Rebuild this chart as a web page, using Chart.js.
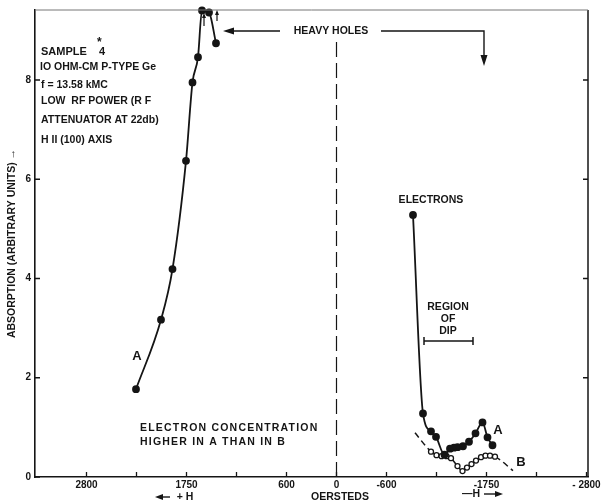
<!DOCTYPE html>
<html>
<head>
<meta charset="utf-8">
<script src="https://cdn.jsdelivr.net/npm/chart.js@4.4.1/dist/chart.umd.min.js"></script>
<style>
  html, body { margin: 0; padding: 0; background: #fff; }
  #wrap { width: 605px; height: 504px; }
</style>
</head>
<body>
<div id="wrap"><canvas id="grafica"></canvas></div>
<script>
// posiciones del eje x en divisiones (0 = campo cero), etiquetas en oersteds
const xTickPos = [-5, -4, -3, -2, -1, 0, 1, 2, 3, 4, 5];
const xTickLabels = ['2800', '', '1750', '', '600', '0', '-600', '', '-1750', '', '- 2800'];
const yTickPos = [0, 2, 4, 6, 8];

// huecos pesados (+H)
const huecosX = [-4.01, -3.51, -3.28, -3.01, -2.88, -2.77, -2.69, -2.55, -2.41];
const huecosY = [1.77, 3.17, 4.19, 6.37, 7.95, 8.46, 9.40, 9.36, 8.74];

// electrones, muestra A (-H)
const electronesAX = [1.53, 1.73, 1.89, 1.99, 2.16, 2.27, 2.35, 2.42, 2.53, 2.65, 2.78, 2.92, 3.02, 3.12];
const electronesAY = [5.28, 1.28, 0.92, 0.81, 0.45, 0.57, 0.59, 0.60, 0.62, 0.71, 0.88, 1.10, 0.80, 0.64];

// muestra B (circulos abiertos), primer y ultimo punto solo son el trazo discontinuo
const muestraBX = [1.57, 1.89, 2.00, 2.10, 2.20, 2.29, 2.42, 2.52, 2.61, 2.70, 2.79, 2.89, 2.98, 3.07, 3.17, 3.53];
const muestraBY = [0.89, 0.51, 0.44, 0.42, 0.42, 0.38, 0.22, 0.12, 0.19, 0.26, 0.33, 0.40, 0.43, 0.43, 0.41, 0.13];

const regionDip = [1.75, 2.73];
const alturaDip = 2.74;

const fuente = '"Liberation Sans", Arial, sans-serif';
const tinta = '#151515';

const puntos = (xs, ys) => xs.map((x, i) => ({ x: x, y: ys[i] }));

// flecha horizontal simple
function flecha(ctx, x0, x1, y) {
    const dir = x1 > x0 ? 1 : -1;
    ctx.beginPath();
    ctx.moveTo(x0, y);
    ctx.lineTo(x1 - dir * 6, y);
    ctx.stroke();
    ctx.beginPath();
    ctx.moveTo(x1, y);
    ctx.lineTo(x1 - dir * 8, y - 3);
    ctx.lineTo(x1 - dir * 8, y + 3);
    ctx.closePath();
    ctx.fill();
}

const anotaciones = {
    id: 'anotaciones',
    afterDraw(chart) {
        const ctx = chart.ctx;
        const xs = chart.scales.x;
        const ys = chart.scales.y;
        const area = chart.chartArea;
        ctx.save();
        ctx.strokeStyle = tinta;
        ctx.fillStyle = tinta;

        // marcas hacia dentro
        ctx.lineWidth = 1.3;
        ctx.beginPath();
        xTickPos.forEach(v => {
            const px = xs.getPixelForValue(v);
            ctx.moveTo(px, area.bottom);
            ctx.lineTo(px, area.bottom - 5);
        });
        yTickPos.forEach(v => {
            const py = ys.getPixelForValue(v);
            ctx.moveTo(area.left, py);
            ctx.lineTo(area.left + 5, py);
            if (v > 0) {
                ctx.moveTo(area.right, py);
                ctx.lineTo(area.right - 5, py);
            }
        });
        ctx.stroke();

        // borde derecho y superior
        ctx.lineWidth = 1.5;
        ctx.beginPath();
        ctx.moveTo(area.right, area.top);
        ctx.lineTo(area.right, area.bottom);
        ctx.stroke();
        ctx.strokeStyle = '#777';
        ctx.lineWidth = 1;
        ctx.beginPath();
        ctx.moveTo(area.left, area.top);
        ctx.lineTo(area.right, area.top);
        ctx.stroke();
        ctx.strokeStyle = tinta;

        // flecha "heavy holes"
        ctx.lineWidth = 1.4;
        ctx.beginPath();
        ctx.moveTo(226, 31); ctx.lineTo(280, 31);
        ctx.moveTo(381, 31); ctx.lineTo(484, 31); ctx.lineTo(484, 58);
        ctx.stroke();
        ctx.beginPath();
        ctx.moveTo(223, 31); ctx.lineTo(234, 27.5); ctx.lineTo(234, 34.5); ctx.closePath();
        ctx.moveTo(484, 66); ctx.lineTo(480.5, 55); ctx.lineTo(487.5, 55); ctx.closePath();
        ctx.fill();

        // flechitas junto al pico
        ctx.lineWidth = 1.2;
        ctx.beginPath();
        ctx.moveTo(204, 26); ctx.lineTo(204, 16);
        ctx.moveTo(217, 21); ctx.lineTo(217, 12);
        ctx.stroke();
        ctx.beginPath();
        ctx.moveTo(204, 13); ctx.lineTo(202, 18); ctx.lineTo(206, 18); ctx.closePath();
        ctx.moveTo(217, 10); ctx.lineTo(215, 15); ctx.lineTo(219, 15); ctx.closePath();
        ctx.fill();

        // flechas bajo el eje
        ctx.lineWidth = 1.4;
        flecha(ctx, 170, 155, 497);
        flecha(ctx, 484, 503, 494);

        // textos
        ctx.textBaseline = 'middle';
        ctx.textAlign = 'left';
        ctx.font = 'bold 11px ' + fuente;
        ctx.fillText('SAMPLE', 41, 52);
        ctx.fillText('4', 99, 52);
        ctx.font = 'bold 12px ' + fuente;
        ctx.fillText('*', 97, 43);
        ctx.font = 'bold 10.5px ' + fuente;
        ctx.fillText('IO OHM-CM P-TYPE Ge', 40, 67);
        ctx.fillText('f = 13.58 kMC', 41, 85);
        ctx.fillText('LOW  RF POWER (R F', 41, 101);
        ctx.fillText('ATTENUATOR AT 22db)', 41, 120);
        ctx.fillText('H II (100) AXIS', 41, 140);

        ctx.textAlign = 'center';
        ctx.fillText('HEAVY HOLES', 331, 31);
        ctx.fillText('ELECTRONS', 431, 200);
        ctx.fillText('REGION', 448, 307);
        ctx.fillText('OF', 448, 319);
        ctx.fillText('DIP', 448, 331);

        ctx.font = 'bold 13px ' + fuente;
        ctx.fillText('A', 137, 356);
        ctx.fillText('A', 498, 430);
        ctx.fillText('B', 521, 462);

        ctx.textAlign = 'left';
        ctx.font = 'bold 10.5px ' + fuente;
        ctx.letterSpacing = '1.2px';
        ctx.fillText('ELECTRON CONCENTRATION', 140, 428);
        ctx.fillText('HIGHER IN A THAN IN B', 140, 442);
        ctx.letterSpacing = '0px';

        ctx.textAlign = 'center';
        ctx.font = 'bold 10.5px ' + fuente;
        ctx.fillText('+ H', 185, 497);
        ctx.fillText('OERSTEDS', 340, 497);
        ctx.fillText('\u2014H', 471, 494);
        ctx.restore();
    }
};

const ctx = document.getElementById('grafica').getContext('2d');
new Chart(ctx, {
    type: 'scatter',
    data: {
        datasets: [
            {
                data: puntos(huecosX, huecosY),
                showLine: true,
                borderColor: tinta,
                backgroundColor: tinta,
                borderWidth: 1.8,
                pointRadius: 3,
                cubicInterpolationMode: 'monotone'
            },
            {
                data: puntos(electronesAX, electronesAY),
                showLine: true,
                borderColor: tinta,
                backgroundColor: tinta,
                borderWidth: 1.8,
                pointRadius: 3,
                cubicInterpolationMode: 'monotone'
            },
            {
                data: puntos(muestraBX, muestraBY),
                showLine: true,
                borderColor: tinta,
                backgroundColor: '#fff',
                borderWidth: 1.5,
                pointBorderWidth: 1.3,
                pointRadius: ctx => (ctx.dataIndex === 0 || ctx.dataIndex === muestraBX.length - 1) ? 0 : 2.5,
                cubicInterpolationMode: 'monotone',
                segment: {
                    borderDash: ctx => (ctx.p0DataIndex === 0 || ctx.p1DataIndex === muestraBX.length - 1) ? [6, 4] : undefined
                }
            },
            {
                // linea discontinua en H = 0
                data: [{ x: 0, y: 0 }, { x: 0, y: 8.8 }],
                showLine: true,
                borderColor: tinta,
                borderWidth: 1.2,
                borderDash: [15, 6],
                pointRadius: 0
            },
            {
                // barra "region of dip"
                data: regionDip.map(x => ({ x: x, y: alturaDip })),
                showLine: true,
                borderColor: tinta,
                borderWidth: 1.5,
                pointStyle: 'line',
                rotation: 90,
                pointRadius: 4,
                pointBorderWidth: 1.5
            }
        ]
    },
    options: {
        responsive: true,
        maintainAspectRatio: false,
        animation: false,
        clip: false,
        layout: { padding: { left: 0, right: 17, top: 10, bottom: 0 } },
        plugins: {
            legend: { display: false },
            tooltip: { enabled: false }
        },
        scales: {
            x: {
                type: 'linear',
                min: -6.03,
                max: 5.03,
                afterBuildTicks: scale => { scale.ticks = xTickPos.map(v => ({ value: v })); },
                afterFit: scale => { scale.height = 27; },
                grid: { display: false, drawTicks: false },
                border: { display: true, color: tinta, width: 1.6 },
                ticks: {
                    autoSkip: false,
                    maxRotation: 0,
                    padding: 2,
                    color: tinta,
                    font: { family: fuente, size: 10, weight: 'bold' },
                    callback: value => xTickLabels[xTickPos.indexOf(value)]
                }
            },
            y: {
                type: 'linear',
                min: 0,
                max: 9.41,
                afterBuildTicks: scale => { scale.ticks = yTickPos.map(v => ({ value: v })); },
                afterFit: scale => { scale.width = 35; },
                grid: { display: false, drawTicks: false },
                border: { display: true, color: tinta, width: 1.6 },
                title: {
                    display: true,
                    text: 'ABSORPTION (ARBITRARY UNITS) \u2192',
                    color: tinta,
                    padding: { top: 6, bottom: 0 },
                    font: { family: fuente, size: 10.5, weight: 'bold' }
                },
                ticks: {
                    padding: 4,
                    color: tinta,
                    font: { family: fuente, size: 10, weight: 'bold' }
                }
            }
        }
    },
    plugins: [anotaciones]
});
</script>
</body>
</html>
